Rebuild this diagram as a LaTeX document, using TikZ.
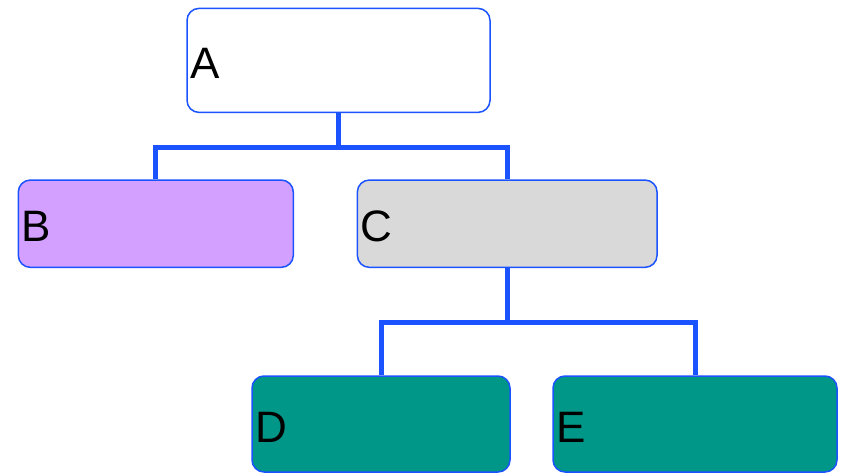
\documentclass[tikz,border=0pt]{standalone}
\usepackage{fontspec}
\setmainfont{Liberation Sans}
\definecolor{edgeblue}{HTML}{1A53FF}
\definecolor{lilac}{HTML}{D4A0FF}
\definecolor{lightgrey}{HTML}{D9D9D9}
\definecolor{teal}{HTML}{009688}
\tikzset{
  box/.style={draw=edgeblue, line width=1.5pt, rounded corners=12pt, rectangle, inner sep=0pt},
  lbl/.style={anchor=west, inner sep=0pt, xshift=4pt, yshift=-3pt, font=\fontsize{44}{52}\selectfont, text=black},
  conn/.style={draw=edgeblue, line width=5pt}
}
\begin{document}
\begin{tikzpicture}[x=1pt,y=-1pt]
\useasboundingbox (0,0) rectangle (842,473);
\node[box, fill=white, minimum width=303pt, minimum height=104pt] (A) at (338.5,60.4) {};
\node[box, fill=lilac, minimum width=275pt, minimum height=87.3pt] (B) at (155.8,223.7) {};
\node[box, fill=lightgrey, minimum width=299.7pt, minimum height=87.3pt] (C) at (507.2,223.7) {};
\node[box, fill=teal, minimum width=258pt, minimum height=96pt] (D) at (381,424) {};
\node[box, fill=teal, minimum width=284pt, minimum height=96pt] (E) at (695,424) {};
\node[lbl] (tA) at (A.west) {A};
\node[lbl] (tB) at (B.west) {B};
\node[lbl] (tC) at (C.west) {C};
\node[lbl] (tD) at (D.west) {D};
\node[lbl] (tE) at (E.west) {E};
\draw[conn] (A.south) -- ++(0,34) -| (B.north);
\draw[conn] (A.south) -- ++(0,34) -| (C.north);
\draw[conn] (C.south) -- ++(0,54.7) -| (D.north);
\draw[conn] (C.south) -- ++(0,54.7) -| (E.north);
\end{tikzpicture}
\end{document}
